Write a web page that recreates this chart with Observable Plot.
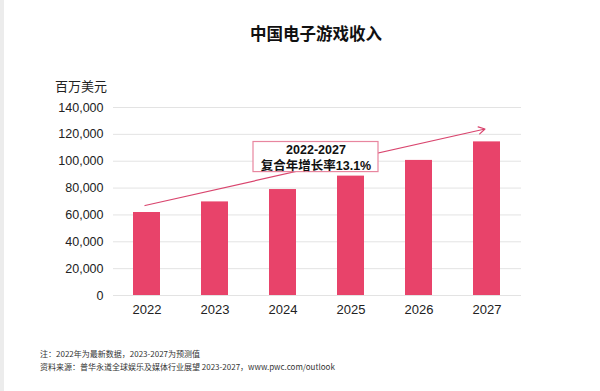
<!DOCTYPE html>
<html>
<head>
<meta charset="utf-8">
<script src="https://cdn.jsdelivr.net/npm/d3@7"></script>
<script src="https://cdn.jsdelivr.net/npm/@observablehq/plot@0.6"></script>
<style>
  html, body { margin: 0; padding: 0; background: #fff; }
  #page { position: relative; width: 600px; height: 391px; overflow: hidden; background: #fff;
          font-family: "Liberation Sans", Arial, "Noto Sans CJK SC", sans-serif; color: #222; }
  #strip { position: absolute; left: 0; top: 0; width: 4px; height: 391px; background: #ececec; }
  #title { position: absolute; left: 0; width: 632px; top: 21px; text-align: center;
           font-size: 16.5px; font-weight: bold; font-family: "Noto Sans CJK SC", sans-serif; color: #111; }
  #unit { position: absolute; left: 55px; top: 76px; font-size: 13px; font-family: "Noto Sans CJK SC", sans-serif; color: #222; }
  #chart { position: absolute; left: 0; top: 95px; }
  #notes { position: absolute; left: 40px; top: 347px; font-size: 8px; line-height: 13px;
           font-family: "Noto Sans CJK SC", sans-serif; color: #333; }
</style>
</head>
<body>
<div id="page">
  <div id="strip"></div>
  <div id="title">中国电子游戏收入</div>
  <div id="unit">百万美元</div>
  <div id="chart"></div>
  <div id="notes">
    <div>注：2022年为最新数据，2023-2027为预测值</div>
    <div>资料来源：普华永道全球娱乐及媒体行业展望 2023-2027，www.pwc.com/outlook</div>
  </div>
</div>
<script>
const years = ["2022", "2023", "2024", "2025", "2026", "2027"];
const revenue = [61800, 69700, 78900, 88900, 100600, 114400];
const yTicks = [0, 20000, 40000, 60000, 80000, 100000, 120000, 140000];
const trendFrom = { year: "2022", value: 67000 };
const trendTo = { year: "2027", value: 124000 };
const annotation = { year: "2025", y1: 91900, y2: 114300, line1: "2022-2027", line2: "复合年增长率13.1%" };

const data = years.map((y, i) => ({ year: y, value: revenue[i] }));

const chart = Plot.plot({
  width: 600,
  height: 230,
  marginLeft: 113,
  marginRight: 79,
  marginTop: 12,
  marginBottom: 30,
  style: { fontFamily: "'Liberation Sans', Arial, sans-serif", fontSize: "12.5px", color: "#222", background: "transparent" },
  x: { domain: years, paddingInner: 0.6, paddingOuter: 0.3, label: null, tickSize: 0, tickPadding: 9 },
  y: { domain: [0, 140000], ticks: yTicks, tickFormat: d3.format(","), label: null, tickSize: 0, tickPadding: 10 },
  marks: [
    Plot.gridY(yTicks, { stroke: "#e3e3e3", strokeOpacity: 1, strokeWidth: 1 }),
    Plot.barY(data, { x: "year", y: "value", fill: "#e8436a" }),
    Plot.arrow([{ x1: trendFrom.year, y1: trendFrom.value, x2: trendTo.year, y2: trendTo.value }], {
      x1: "x1", y1: "y1", x2: "x2", y2: "y2", stroke: "#d9456e", strokeWidth: 1.2, headLength: 9, bend: 0, dx: -2
    }),
    Plot.barY([annotation], {
      x: "year", y1: "y1", y2: "y2", fill: "white", stroke: "#e8869f", strokeWidth: 1.2,
      insetLeft: -84, insetRight: -14
    }),
    Plot.text([annotation], {
      x: "year", y: (d) => (d.y1 + d.y2) / 2, text: (d) => d.line1 + "\n" + d.line2,
      dx: -35, dy: 0, fontWeight: "bold", fontSize: 12.5, fill: "#111", lineHeight: 1.25,
      fontFamily: "'Liberation Sans', Arial, 'Noto Sans CJK SC', sans-serif"
    }),
    Plot.axisX({ tickSize: 0, tickPadding: 9, fontSize: 13 }),
    Plot.axisY({ ticks: yTicks, tickFormat: d3.format(","), tickSize: 0, tickPadding: 10, fontSize: 12.5 })
  ]
});
document.getElementById("chart").appendChild(chart);
</script>
</body>
</html>
